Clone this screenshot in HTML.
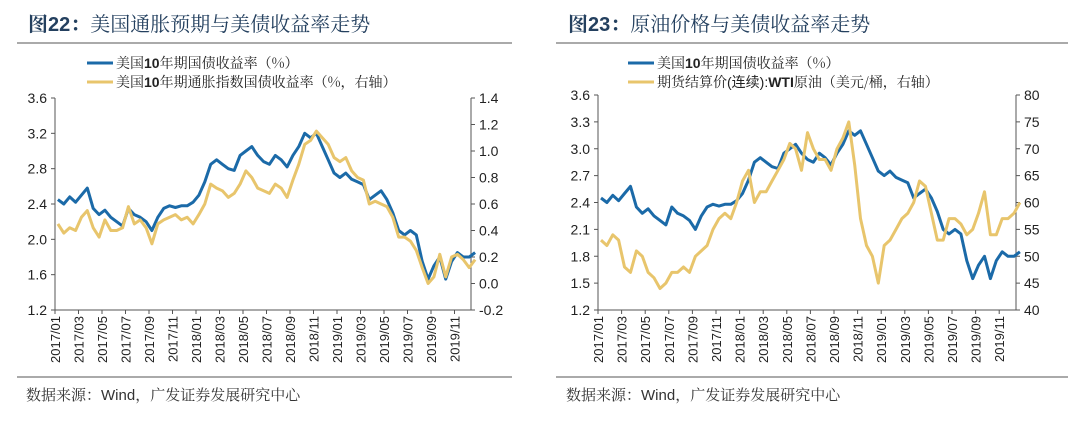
<!DOCTYPE html>
<html><head><meta charset="utf-8"><style>
body{margin:0;background:#fff;width:1080px;height:418px;overflow:hidden;font-family:"Liberation Sans","Noto Sans CJK SC",sans-serif}
svg text{font-family:"Liberation Sans","Noto Serif CJK SC",serif}
.cj{font-family:"Liberation Serif","Noto Serif CJK SC",serif}
</style></head><body>
<svg id="s" width="1080" height="418" xmlns="http://www.w3.org/2000/svg">
<g>
<text x="28" y="31" font-size="20" fill="#24405f" font-weight="bold">图22：<tspan style="font-weight:normal;font-family:'Noto Serif CJK SC',serif">美国通胀预期与美债收益率走势</tspan></text>
<line x1="17" y1="43" x2="512" y2="43" stroke="#777" stroke-width="1.2"/>
<line x1="87" y1="63" x2="113" y2="63" stroke="#1b6aa8" stroke-width="3"/>
<text x="116" y="68" font-size="14" fill="#222" class="cj" style="font-family:'Noto Serif CJK SC',serif">美国<tspan style="font-weight:bold;font-family:'Liberation Sans',sans-serif">10</tspan>年期国债收益率（%）</text>
<line x1="87" y1="82" x2="113" y2="82" stroke="#e8c56c" stroke-width="3"/>
<text x="116" y="87" font-size="14" fill="#222" style="font-family:'Noto Serif CJK SC',serif">美国<tspan style="font-weight:bold;font-family:'Liberation Sans',sans-serif">10</tspan>年期通胀指数国债收益率（%，右轴）</text>
<line x1="17" y1="377" x2="512" y2="377" stroke="#777" stroke-width="1.2"/>
<text x="26" y="400" font-size="15" fill="#333" style="font-family:'Noto Serif CJK SC',serif">数据来源：<tspan style="font-family:'Liberation Sans',sans-serif">Wind</tspan>，广发证券发展研究中心</text>
</g>
<g>
<text x="568" y="31" font-size="20" fill="#24405f" font-weight="bold">图23：<tspan style="font-weight:normal;font-family:'Noto Serif CJK SC',serif">原油价格与美债收益率走势</tspan></text>
<line x1="556" y1="43" x2="1068" y2="43" stroke="#777" stroke-width="1.2"/>
<line x1="628" y1="63" x2="654" y2="63" stroke="#1b6aa8" stroke-width="3"/>
<text x="657" y="68" font-size="14" fill="#222" style="font-family:'Noto Serif CJK SC',serif">美国<tspan style="font-weight:bold;font-family:'Liberation Sans',sans-serif">10</tspan>年期国债收益率（%）</text>
<line x1="628" y1="82" x2="654" y2="82" stroke="#e8c56c" stroke-width="3"/>
<text x="657" y="87" font-size="14" fill="#222" style="font-family:'Noto Serif CJK SC',serif">期货结算价<tspan style="font-family:'Liberation Sans',sans-serif">(连续):</tspan><tspan style="font-weight:bold;font-family:'Liberation Sans',sans-serif">WTI</tspan>原油（美元/桶，右轴）</text>
<line x1="556" y1="377" x2="1068" y2="377" stroke="#777" stroke-width="1.2"/>
<text x="566" y="400" font-size="15" fill="#333" style="font-family:'Noto Serif CJK SC',serif">数据来源：<tspan style="font-family:'Liberation Sans',sans-serif">Wind</tspan>，广发证券发展研究中心</text>
</g>
</svg>
<script>
const months=["2017/01","2017/03","2017/05","2017/07","2017/09","2017/11","2018/01","2018/03","2018/05","2018/07","2018/09","2018/11","2019/01","2019/03","2019/05","2019/07","2019/09","2019/11"];
const yield10=[2.45,2.40,2.48,2.42,2.50,2.58,2.35,2.28,2.33,2.25,2.20,2.15,2.35,2.28,2.25,2.20,2.10,2.25,2.35,2.38,2.36,2.38,2.38,2.42,
2.50,2.65,2.85,2.90,2.85,2.80,2.78,2.95,3.00,3.05,2.95,2.88,2.85,2.95,2.90,2.82,2.95,3.05,3.20,3.15,3.20,3.05,2.90,2.75,
2.70,2.75,2.68,2.65,2.62,2.45,2.50,2.55,2.45,2.30,2.10,2.05,2.10,2.05,1.75,1.55,1.70,1.80,1.55,1.75,1.85,1.80,1.80,1.85];
const tips=[0.45,0.38,0.42,0.40,0.50,0.55,0.42,0.35,0.48,0.40,0.40,0.42,0.58,0.45,0.48,0.42,0.30,0.45,0.48,0.50,0.52,0.48,0.50,0.45,
0.52,0.60,0.75,0.72,0.70,0.65,0.68,0.75,0.85,0.80,0.72,0.70,0.68,0.75,0.72,0.65,0.78,0.90,1.05,1.08,1.15,1.10,1.05,0.95,
0.92,0.95,0.85,0.80,0.78,0.60,0.62,0.60,0.58,0.50,0.35,0.35,0.32,0.25,0.12,0.00,0.05,0.22,0.05,0.20,0.22,0.18,0.12,0.18];
const wti=[53,52,54,53,48,47,51,50,47,46,44,45,47,47,48,47,50,51,52,55,57,58,57,60,
64,66,60,62,62,64,66,68,71,70,66,73,70,68,68,66,70,72,75,67,57,52,50,45,
52,53,55,57,58,60,64,63,58,53,53,57,57,56,54,55,58,62,54,54,57,57,58,60];
const leftTicks=[1.2,1.6,2.0,2.4,2.8,3.2,3.6];
const leftRTicks=[-0.2,0.0,0.2,0.4,0.6,0.8,1.0,1.2,1.4];
const rightTicks=[1.2,1.5,1.8,2.1,2.4,2.7,3.0,3.3,3.6];
const rightRTicks=[40,45,50,55,60,65,70,75,80];
const NS="http://www.w3.org/2000/svg",svg=document.getElementById('s');
function el(t,a,p){const e=document.createElementNS(NS,t);for(const k in a)e.setAttribute(k,a[k]);(p||svg).appendChild(e);return e;}
function chart(o){
 const g=el('g',{});
 
 
 const ly=v=>o.yb-(v-o.l0)/(o.l1-o.l0)*(o.yb-o.yt);
 const ry=v=>o.yb-(v-o.r0)/(o.r1-o.r0)*(o.yb-o.yt);
 const xm=m=>o.x0+m*o.step;
 const xi=i=>xm(i/2+0.25);
 el('line',{x1:o.x0,y1:o.yt,x2:o.x0,y2:o.yb,stroke:'#555'},g);
 el('line',{x1:o.x1,y1:o.yt,x2:o.x1,y2:o.yb,stroke:'#555'},g);
 el('line',{x1:o.x0,y1:o.yb,x2:o.x1,y2:o.yb,stroke:'#555'},g);
 o.lt.forEach(v=>{el('line',{x1:o.x0-4,x2:o.x0,y1:ly(v),y2:ly(v),stroke:'#555'},g);
  const t=el('text',{x:o.x0-8,y:ly(v)+5,'text-anchor':'end','font-size':14,fill:'#222'},g);t.textContent=v.toFixed(1);
  
  });
 o.rt.forEach(v=>{el('line',{x1:o.x1,x2:o.x1+4,y1:ry(v),y2:ry(v),stroke:'#555'},g);
  const t=el('text',{x:o.x1+8,y:ry(v)+5,'font-size':14,fill:'#222'},g);t.textContent=o.rfix?v.toFixed(1):String(v);
  
  });
 months.forEach((m,i)=>{const x=xm(i*2);el('line',{x1:x,x2:x,y1:o.yb,y2:o.yb+4,stroke:'#555'},g);
  const t=el('text',{transform:`translate(${x+5},${o.yb+6}) rotate(-90)`,'text-anchor':'end','font-size':13,fill:'#222'},g);t.textContent=m;
  
  });
 const p2=el('path',{d:o.r.map((v,i)=>(i?'L':'M')+xi(i).toFixed(1)+','+ry(v).toFixed(1)).join(''),fill:'none',stroke:'#e8c56c','stroke-width':3,'stroke-linejoin':'round'},g);
 const p1=el('path',{d:o.l.map((v,i)=>(i?'L':'M')+xi(i).toFixed(1)+','+ly(v).toFixed(1)).join(''),fill:'none',stroke:'#1b6aa8','stroke-width':3,'stroke-linejoin':'round'},g);
 g.insertBefore(p1,p2);
 
 
 
 
}
chart({name:'left-chart',rname:'tips-line',x0:55,x1:471,step:11.75,yt:98,yb:310,l0:1.2,l1:3.6,r0:-0.2,r1:1.4,lt:leftTicks,rt:leftRTicks,rfix:true,l:yield10,r:tips});
chart({name:'right-chart',rname:'wti-line',x0:598,x1:1016,step:11.8,yt:95,yb:310,l0:1.2,l1:3.6,r0:40,r1:80,lt:rightTicks,rt:rightRTicks,rfix:false,l:yield10,r:wti});
</script>
</body></html>
